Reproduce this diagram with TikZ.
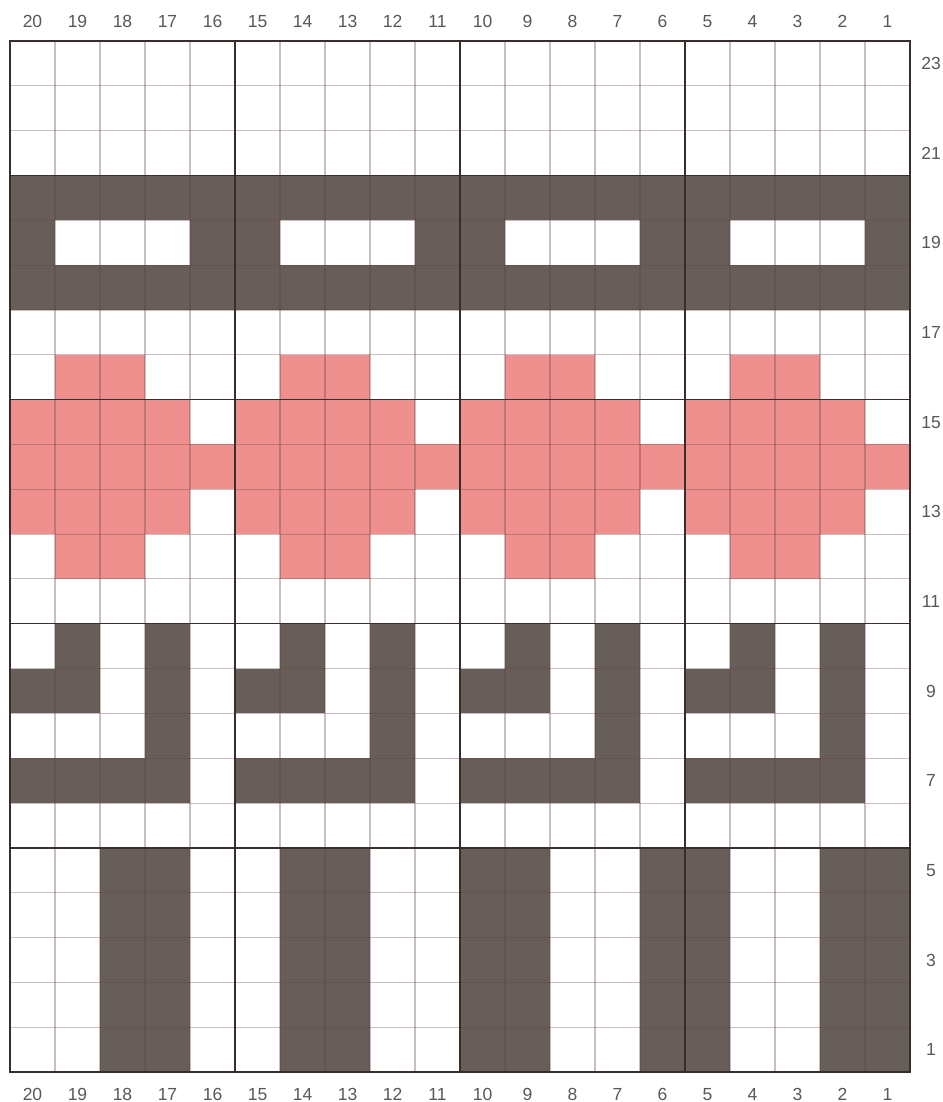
\documentclass[tikz,border=0pt]{standalone}
\usepackage{fontspec}
\setmainfont{Liberation Sans}
\definecolor{dk}{RGB}{103,94,89}
\definecolor{pk}{RGB}{240,144,142}
\definecolor{gl}{RGB}{100,60,60}
\definecolor{tk}{RGB}{55,46,44}
\definecolor{lb}{RGB}{88,88,88}
\newcommand\cw{45}
\newcommand\ch{44.826}
\newcommand\gx{10}
\newcommand\gy{41}
\newcommand\mycell[3]{\fill[#3] ({\gx+\cw*(#1)},{\gy+(23-(#2))*\ch}) rectangle ++(\cw,\ch);}
\tikzset{lab/.style={text=lb,font=\fontsize{17.5}{20}\selectfont,inner sep=0pt,text height=12.5pt,text depth=0pt},
thin/.style={draw=gl,draw opacity=0.33,line width=1.1pt},
thick/.style={draw=tk,line width=1.4pt}}
\begin{document}
\begin{tikzpicture}[x=1pt,y=-1pt]
\useasboundingbox (0,0) rectangle (942,1102);
\fill[white] (0,0) rectangle (942,1102);
% dark rows
\foreach \r in {20,18} {\foreach \i in {0,...,19} {\mycell{\i}{\r}{dk}}}
\foreach \k in {0,5,10,15} {
  \foreach \o in {0,4} {\mycell{\k+\o}{19}{dk}}
  \foreach \o in {1,3} {\mycell{\k+\o}{10}{dk}}
  \foreach \o in {0,1,3} {\mycell{\k+\o}{9}{dk}}
  \mycell{\k+3}{8}{dk}
  \foreach \o in {0,1,2,3} {\mycell{\k+\o}{7}{dk}}
  \foreach \o in {1,2} {\mycell{\k+\o}{16}{pk}\mycell{\k+\o}{12}{pk}}
  \foreach \o in {0,1,2,3} {\mycell{\k+\o}{15}{pk}\mycell{\k+\o}{13}{pk}}
}
\foreach \i in {0,...,19} {\mycell{\i}{14}{pk}}
\foreach \r in {1,...,5} {\foreach \i in {2,3,6,7,10,11,14,15,18,19} {\mycell{\i}{\r}{dk}}}
% thin grid
\foreach \i in {1,...,19} {\draw[thin] ({\gx+\cw*\i},\gy) -- ({\gx+\cw*\i},{\gy+23*\ch});}
\foreach \j in {1,...,22} {\draw[thin] (\gx,{\gy+\ch*\j}) -- ({\gx+20*\cw},{\gy+\ch*\j});}
% thick grid
\foreach \i in {5,10,15} {\draw[thick] ({\gx+\cw*\i},\gy) -- ({\gx+\cw*\i},{\gy+23*\ch});}
\foreach \j in {3,8,13,18} {\draw[thick] (\gx,{\gy+\ch*\j}) -- ({\gx+20*\cw},{\gy+\ch*\j});}
\draw[thick] (\gx,\gy) rectangle ({\gx+20*\cw},{\gy+23*\ch});
% labels
\foreach \i [evaluate=\i as \n using int(20-\i)] in {0,...,19} {
  \node[lab] (t\n) at ({\gx+\cw*\i+\cw/2},21) {\n};
  \node[lab] (b\n) at ({\gx+\cw*\i+\cw/2},1094) {\n};
}
\foreach \r in {1,3,...,23} {
  \node[lab] (r\r) at (931,{\gy+(23-\r+0.5)*\ch}) {\r};
}
\end{tikzpicture}
\end{document}
